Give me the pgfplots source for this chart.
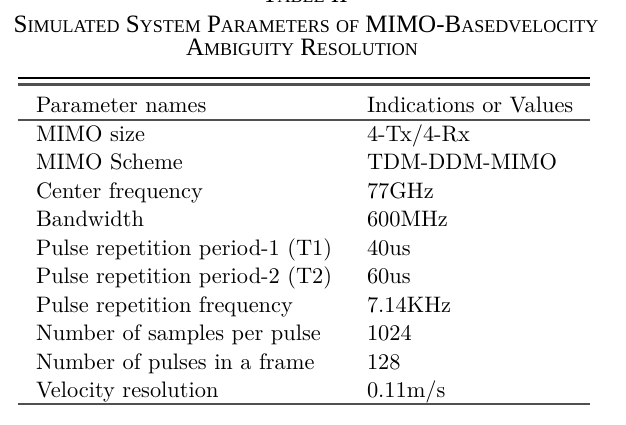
\documentclass[border=0pt]{standalone}
\usepackage{fontspec}
\usepackage{pgfplots}
\pgfplotsset{compat=1.18}
\newfontfamily\titlefont{Liberation Serif}
\newfontfamily\lmten[Extension=.otf]{lmroman10-regular}
\definecolor{rulegray}{RGB}{80,80,80}
\newcommand\bigc[1]{{\fontsize{25bp}{27bp}\selectfont #1}}
\newcommand\smc[1]{{\fontsize{18bp}{20bp}\selectfont #1}}
\begin{document}
\begin{tikzpicture}
\begin{axis}[
  scale only axis, width=626bp, height=425bp,
  xmin=0, xmax=626, ymin=0, ymax=425, y dir=reverse,
  hide axis, clip=false,
]
\path (axis cs:0,0) rectangle (axis cs:626,425);
% rules
\addplot[black, line width=1.3bp] coordinates {(18,78) (590,78)};
\addplot[rulegray, line width=2.4bp] coordinates {(18,84.5) (590,84.5)};
\addplot[rulegray, line width=2bp] coordinates {(18,120.5) (590,120.5)};
\addplot[rulegray, line width=2.4bp] coordinates {(18,404) (590,404)};
% table cells
\addplot[draw=none, mark=none, nodes near coords, point meta=explicit symbolic,
  nodes near coords style={anchor=base west, inner sep=0pt, outer sep=0pt,
    font=\lmten\fontsize{22.4bp}{26bp}\selectfont, text=black}]
  table[x=x, y=y, meta=t, col sep=comma, row sep=\\] {
x,y,t\\
36,112,Parameter names\\
367,112,Indications or Values\\
36,141,MIMO size\\
367,141,4-Tx/4-Rx\\
36,169.5,MIMO Scheme\\
367,169.5,TDM-DDM-MIMO\\
36,198,Center frequency\\
367,198,77GHz\\
36,226.5,Bandwidth\\
367,226.5,600MHz\\
36,255,Pulse repetition period-1 (T1)\\
367,255,40us\\
36,283.5,Pulse repetition period-2 (T2)\\
367,283.5,60us\\
36,312,Pulse repetition frequency\\
367,312,7.14KHz\\
36,340.5,Number of samples per pulse\\
367,340.5,1024\\
36,369,Number of pulses in a frame\\
367,369,128\\
36,397,Velocity resolution\\
367,397,0.11m/s\\
};
% caption
\node[overlay, anchor=base, inner sep=0pt, font=\titlefont\fontsize{25bp}{27bp}\selectfont] at (axis cs:305,2.5)
  {\bigc{T}\smc{ABLE} \bigc{II}};
\node[anchor=base, inner sep=0pt, font=\titlefont\fontsize{25bp}{27bp}\selectfont] at (axis cs:306,32.3)
  {\bigc{S}\smc{IMULATED} \bigc{S}\smc{YSTEM} \bigc{P}\smc{ARAMETERS} \smc{OF} \bigc{MIMO-B}\smc{ASEDVELOCITY}};
\node[anchor=base, inner sep=0pt, font=\titlefont\fontsize{25bp}{27bp}\selectfont] at (axis cs:302,55.5)
  {\bigc{A}\smc{MBIGUITY} \bigc{R}\smc{ESOLUTION}};
\end{axis}
\end{tikzpicture}
\end{document}
